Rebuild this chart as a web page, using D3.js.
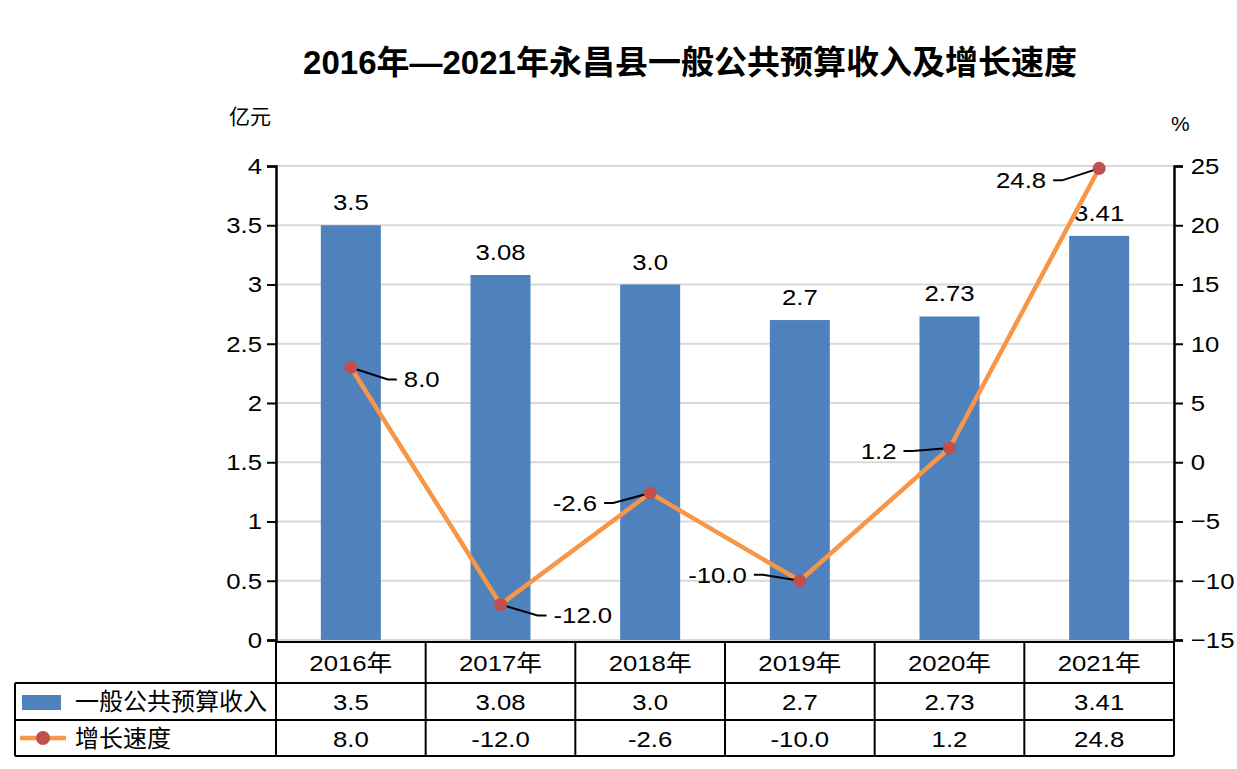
<!DOCTYPE html>
<html>
<head>
<meta charset="utf-8">
<script src="https://cdn.jsdelivr.net/npm/d3@7"></script>
<style>
  body { margin: 0; background: #fff; }
  svg text { font-family: "Liberation Sans", Arial, "Noto Sans CJK SC", sans-serif; }
</style>
</head>
<body>
<svg id="chart" width="1237" height="769"></svg>
<script>
var years = ["2016年", "2017年", "2018年", "2019年", "2020年", "2021年"];
var income = [3.5, 3.08, 3.0, 2.7, 2.73, 3.41];
var incomeLabels = ["3.5", "3.08", "3.0", "2.7", "2.73", "3.41"];
var growth = [8.0, -12.0, -2.6, -10.0, 1.2, 24.8];
var growthLabels = ["8.0", "-12.0", "-2.6", "-10.0", "1.2", "24.8"];
var leftTicks = [0, 0.5, 1, 1.5, 2, 2.5, 3, 3.5, 4];
var rightTicks = [-15, -10, -5, 0, 5, 10, 15, 20, 25];
// which side each growth label sits on
var labelSide = ["right", "right", "left", "left", "left", "left"];
var labelDy = [12, 11, 10, -6, 3, 12];

var svg = d3.select("#chart");
var plotL = 276, plotR = 1174, plotT = 166, plotB = 640;
var SX = 1.12; // the original text is a bit wider than Arial

var x = d3.scaleBand().domain(years).range([plotL, plotR]);
var yL = d3.scaleLinear().domain([0, 4]).range([plotB, plotT]);
var yR = d3.scaleLinear().domain([-15, 25]).range([plotB, plotT]);

// put a text at (tx, ty) stretched sideways
function wide(g, tx, ty, str, size, anchor) {
  return g.append("text")
    .attr("transform", "translate(" + tx + "," + ty + ") scale(" + SX + ",1)")
    .attr("text-anchor", anchor || "middle")
    .attr("font-size", size)
    .text(str);
}

// title
svg.append("text")
  .attr("x", 690).attr("y", 74)
  .attr("text-anchor", "middle")
  .attr("font-size", 33).attr("font-weight", "bold")
  .text("2016年—2021年永昌县一般公共预算收入及增长速度");

svg.append("text").attr("x", 229).attr("y", 124)
  .attr("font-size", 21).style("font-family", "'Noto Sans CJK SC', sans-serif")
  .text("亿元");
svg.append("text").attr("x", 1171).attr("y", 131)
  .attr("font-size", 21).text("%");

// grid
svg.append("g").selectAll("line").data(leftTicks).join("line")
  .attr("x1", plotL).attr("x2", plotR)
  .attr("y1", d => yL(d)).attr("y2", d => yL(d))
  .attr("stroke", "#d9d9d9").attr("stroke-width", 2);

// axes
var axL = svg.append("g").attr("transform", "translate(" + plotL + ",0)")
  .call(d3.axisLeft(yL).tickValues(leftTicks).tickSize(9).tickPadding(3.5).tickFormat(d3.format("")));
var axR = svg.append("g").attr("transform", "translate(" + plotR + ",0)")
  .call(d3.axisRight(yR).tickValues(rightTicks).tickSize(9).tickPadding(6).tickFormat(d3.format("")));
[axL, axR].forEach(function (ax) {
  ax.select(".domain").attr("stroke", "#000").attr("stroke-width", 2.5);
  ax.selectAll(".tick line").attr("stroke", "#000").attr("stroke-width", 2);
  ax.selectAll(".tick text").attr("font-size", 23).attr("fill", "#000")
    .attr("transform", "scale(" + SX + ",1)")
    .style("font-family", "'Liberation Sans', Arial, sans-serif");
});

// bars
var barW = 60;
svg.append("g").selectAll("rect").data(income).join("rect")
  .attr("x", (d, i) => x(years[i]) + x.bandwidth() / 2 - barW / 2)
  .attr("width", barW)
  .attr("y", d => yL(d))
  .attr("height", d => yL(0) - yL(d))
  .attr("fill", "#4f81bd");

var bl = svg.append("g");
income.forEach(function (d, i) {
  wide(bl, x(years[i]) + x.bandwidth() / 2, yL(d) - 15, incomeLabels[i], 23);
});

// line
var cx = (d, i) => x(years[i]) + x.bandwidth() / 2;
var line = d3.line().x((d, i) => cx(d, i)).y(d => yR(d));
svg.append("path").datum(growth)
  .attr("d", line).attr("fill", "none")
  .attr("stroke", "#f79646").attr("stroke-width", 4.5).attr("stroke-linejoin", "round");

// leader lines + labels
var lg = svg.append("g");
growth.forEach(function (d, i) {
  var px = cx(d, i), py = yR(d);
  var s = labelSide[i] === "right" ? 1 : -1;
  var ly = py + labelDy[i];
  var kx = px + s * 37, ex = px + s * 46;
  lg.append("polyline")
    .attr("points", [[px, py], [kx, ly], [ex, ly]].map(p => p.join(",")).join(" "))
    .attr("fill", "none").attr("stroke", "#000").attr("stroke-width", 2);
  wide(lg, ex + s * 7, ly + 8, growthLabels[i], 23, s > 0 ? "start" : "end");
});

svg.append("g").selectAll("circle").data(growth).join("circle")
  .attr("cx", (d, i) => cx(d, i)).attr("cy", d => yR(d))
  .attr("r", 6.5).attr("fill", "#c0504d");

// data table
var tbl = svg.append("g").attr("stroke", "#000").attr("stroke-width", 2);
var rowY = [642, 683, 720, 756];
tbl.append("line").attr("x1", plotL).attr("x2", plotR).attr("y1", rowY[0]).attr("y2", rowY[0]);
[1, 2, 3].forEach(function (r) {
  tbl.append("line").attr("x1", 15).attr("x2", plotR).attr("y1", rowY[r]).attr("y2", rowY[r]);
});
tbl.append("line").attr("x1", 15).attr("x2", 15).attr("y1", rowY[1]).attr("y2", rowY[3]);
years.forEach(function (yr) {
  var xx = x(yr);
  tbl.append("line").attr("x1", xx).attr("x2", xx).attr("y1", rowY[0]).attr("y2", rowY[3]);
});
tbl.append("line").attr("x1", plotR).attr("x2", plotR).attr("y1", rowY[0]).attr("y2", rowY[3]);

var tt = svg.append("g");
years.forEach(function (yr, i) {
  var c = x(yr) + x.bandwidth() / 2;
  wide(tt, c, 671, yr, 23);
  wide(tt, c, 710, incomeLabels[i], 23);
  wide(tt, c, 747, growthLabels[i], 23);
});

// legend cells
svg.append("rect").attr("x", 22).attr("y", 695).attr("width", 39).attr("height", 15).attr("fill", "#4f81bd");
svg.append("text").attr("x", 75).attr("y", 710).attr("font-size", 24)
  .style("font-family", "'Noto Sans CJK SC', sans-serif").text("一般公共预算收入");
svg.append("line").attr("x1", 20).attr("x2", 66).attr("y1", 738).attr("y2", 738)
  .attr("stroke", "#f79646").attr("stroke-width", 4.5);
svg.append("circle").attr("cx", 43).attr("cy", 738).attr("r", 7).attr("fill", "#c0504d");
svg.append("text").attr("x", 75).attr("y", 747).attr("font-size", 24)
  .style("font-family", "'Noto Sans CJK SC', sans-serif").text("增长速度");
</script>
</body>
</html>
